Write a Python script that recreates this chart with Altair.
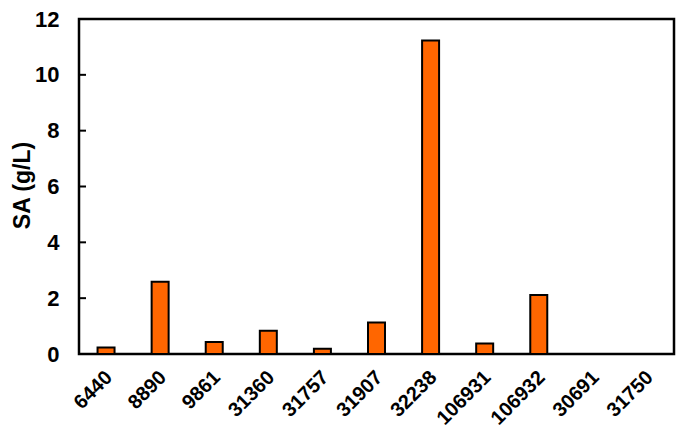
import altair as alt
import pandas as pd

strains = ["6440", "8890", "9861", "31360", "31757", "31907", "32238",
           "106931", "106932", "30691", "31750"]
sa_values = [0.23, 2.59, 0.43, 0.83, 0.19, 1.13, 11.23, 0.38, 2.11, 0.0, 0.0]
y_ticks = [0, 2, 4, 6, 8, 10, 12]

df = pd.DataFrame({"strain": strains, "sa": sa_values})
ticks_df = pd.DataFrame({"t": y_ticks})

FONT = "Liberation Sans"

y_scale = alt.Scale(domain=[0, 12], nice=False, zero=True)

bars = alt.Chart(df).mark_bar(
    color="#FF6600", stroke="black", strokeWidth=2, size=17
).encode(
    x=alt.X("strain:N", sort=strains,
            scale=alt.Scale(paddingInner=0.0, paddingOuter=0.0),
            axis=alt.Axis(title=None, labelAngle=-45, labelAlign="right",
                          labelBaseline="middle", labelPadding=20,
                          labelOffset=3,
                          ticks=False, tickSize=0, domain=False,
                          labelFont=FONT, labelFontSize=20,
                          labelFontWeight="bold", labelColor="black")),
    y=alt.Y("sa:Q", scale=y_scale,
            axis=alt.Axis(title="SA (g/L)", values=y_ticks, grid=False,
                          ticks=False, tickSize=0, labelPadding=20,
                          domain=False,
                          labelFont=FONT, labelFontSize=22,
                          labelFontWeight="bold", labelColor="black",
                          titleFont=FONT, titleFontSize=23,
                          titleFontWeight="bold", titleColor="black",
                          titleAngle=-90, titleAlign="center",
                          titleBaseline="alphabetic",
                          titleX=-50, titleY=166)),
)

inner_ticks = alt.Chart(ticks_df).mark_rule(color="black", strokeWidth=2).encode(
    y=alt.Y("t:Q", scale=y_scale),
    x=alt.value(0),
    x2=alt.value(7),
)

chart = alt.layer(bars, inner_ticks).properties(
    width=595, height=335,
    autosize=alt.AutoSizeParams(type="none"),
    padding={"left": 71, "top": 11, "right": 3, "bottom": 77},
    background="white",
).configure_view(
    stroke="black", strokeWidth=2.5
)

chart.save("out.html", embed_options={"renderer": "svg", "actions": False})
